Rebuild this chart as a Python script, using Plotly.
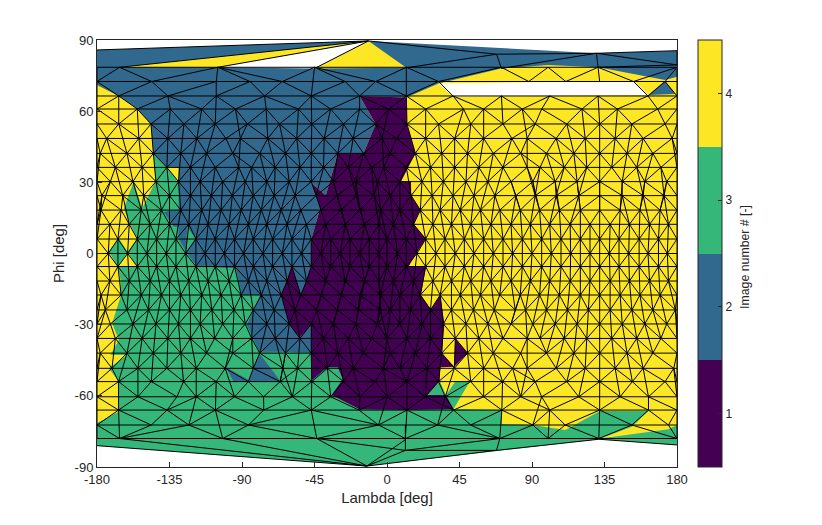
"""
Mesh patches per image number, lambda/phi map with discrete colorbar
"""

import plotly.graph_objects as go

# -- Colores (viridis, 4 niveles) ---------------------------------------------
COLORS = ["#440154", "#31688e", "#35b779", "#fde725"]
IMAGE_NUMBERS = [1, 2, 3, 4]
X_TICKS = [-180, -135, -90, -45, 0, 45, 90, 135, 180]
Y_TICKS = [-90, -60, -30, 0, 30, 60, 90]

# -- Contornos de cada region (lambda, phi) -----------------------------------
YELLOW_LON = [-180, 180, 180, -180]
YELLOW_LAT = [80, 80, -78, -78]

GREEN_LON = [-143.7, -152, -157.2, -163.4, -159.2, -155, -160.9, -155, -166.9, -165.4, -165.4, -170.6,
             -166.5, -171.6, -161.3, -172.7, -166.5, -166.5, -180, -180, -12.5, 131.5, 180, 180,
             174.7, 132.5, 152, 162.3, 132.3, 110.6, 90.5, 71.3, 71.3, 41.3, 51.7, 42.4, 36.6, 32.7,
             24.8, 0, -47, -100, -125, -129.3, -136.6, -145]
GREEN_LAT = [30.3, 19, 30.3, 19, 12, 6.4, 0.6, -5.6, -5.6, -11.2, -18.2, -29.4,
             -36.5, -42.8, -42.8, -48.4, -54, -66.7, -71.5, -81, -89.6, -78.3, -80.7, -72.3,
             -74.1, -78, -73, -66.4, -66.4, -74.4, -72.3, -71.9, -66, -65.6, -53.6, -54, -59.7, -53.6,
             -59.7, -55, -30, 0, 15, 30, 36.3, 42.2]
GREEN_DIAMOND_LON = [-166.5, -172.7, -166.9, -160.9]
GREEN_DIAMOND_LAT = [6.4, 0.7, -5.6, 0.6]

BLUE_LON = [-180, -11.5, 130, 180, 180, 172.6, 131, 100, 70.7, 32, 12, -17, -7, -14.6, -30.5, -38, -46.7,
            -41.5, -47, -47, -53.5, -59, -65.7, -60.7, -54.3, -47, -47, -63, -79.3, -87, -78.7, -90.1,
            -93.8, -118, -124.7, -129.6, -129.3, -132.4, -138.6, -129.3, -129.4, -136.6, -145, -146.5,
            -155, -166.5, -180]
BLUE_LAT = [85.8, 89.6, 84.4, 85.5, 74.5, 73.1, 78.5, 79.5, 78, 71.7, 65.8, 66.4, 54.6, 42.2, 42.2, 24.4, 29.6,
            19, 6, -5.5, -17.5, -5.5, -17.5, -29.7, -35.3, -30.2, -41.8, -41.4, -41.4, -30, -17.5, -17.5,
            -6.2, -5.5, 0.7, 6.4, 11.3, 11.3, 17.6, 18.3, 36.3, 36.3, 42.2, 54.6,
            61, 66.4, 71]
BLUE_SOUTH_LON = [-79.3, -72.5, -66.3, -95.2, -100, -86, -83]
BLUE_SOUTH_LAT = [-42, -48, -53.6, -54, -48, -53.2, -48]
BLUE_EAST_LON = [172.6, 162.3, 178.8]
BLUE_EAST_LAT = [72.8, 66.8, 67.2]
GREEN_WEDGE_LON = [-124, -118.9, -124.7]
GREEN_WEDGE_LAT = [11.3, 6.4, 0.7]

PURPLE_LON = [-17, 12, 12.4, 17.6, 8.7, 14.9, 15, 20.7, 16.5, 24, 18.6, 13.4, 24.2, 21, 27.3, 33, 35.6, 34,
              41.8, 42.4, 50, 41.8, 33, 32.7, 24.8, 36.5, 41.3, 12.4, -17, -34.3, -27.5, -30.5, -37, -47,
              -47, -47, -54.3, -60.7, -65.7, -59, -53.5, -47, -47, -41.5, -46.7, -38, -30.5, -14.6, -7]
PURPLE_LAT = [66.4, 65.8, 54.4, 42.2, 30.3, 30.3, 24.4, 18.3, 12.3, 6.1, 0.5, -5.5, -5.5, -17.5, -23.5, -17.5, -29.7, -42,
              -47.7, -35.8, -42, -47.7, -48, -53.6, -59.7, -59.7, -65.6, -66, -65.7, -59.6, -53, -48, -48, -53.6,
              -41.8, -30.2, -35.3, -29.7, -17.5, -5.5, -17.5, -5.5, 6, 19, 29.6, 24.4, 42.2, 42.2, 54.6]

YELLOW_SLIVER_LON = [-166, -11.5, -105]
YELLOW_SLIVER_LAT = [78.5, 89.6, 78.5]
YELLOW_CAP_LON = [-45, -11.5, 12]
YELLOW_CAP_LAT = [78, 89.6, 78.3]
WHITE_CAP_LON = [-105, -11.5, -45]
WHITE_CAP_LAT = [78.5, 89.6, 78]
WHITE_HOLE_LON = [32, 41.3, 162.3, 153]
WHITE_HOLE_LAT = [71.7, 66.1, 66.8, 72.7]

# -- Nodos de la malla, por filas de latitud ----------------------------------
MESH_LATS = [78.5, 72.5, 66.4, 60.9, 54.6, 48.5, 42.2, 36.3, 30.3, 24.4, 18.3, 12.3, 6.1, 0,
             -5.5, -11.6, -17.5, -23.8, -29.7, -35.8, -42, -48.4, -54, -60.4, -66, -72.3, -78]
MESH_LONS = [
    [-180, -166, -105, -45, 12, 71, 100, 131, 180],
    [-180, -146, -106, -85, -65, -46, -26, -7, 12, 32, 88, 111, 132, 153, 172.6, 180],
    [-180, -166.5, -136, -106, -76, -47, -17, 12, 41, 71, 101, 131, 162, 180],
    [-180, -155, -134.5, -115, -94, -75, -55, -35, -17, 1, 24, 47.5, 60, 84, 96, 121, 143, 168, 180],
    [-180, -166.5, -146.5, -126, -106.6, -86.6, -66.7, -46.7, -27, -7, 12.4, 32, 52, 72, 92, 111.6, 132, 152, 172.6, 180],
    [-180, -174, -154, -136, -118, -100, -91, -74, -56, -39, -21, -3, 6, 24, 42, 60, 77.5, 87, 105, 123, 141.6, 159, 177, 180],
    [-180, -178, -161.4, -145, -128, -112, -95.7, -79, -63, -47, -30.5, -14.6, 2, 17.6, 34, 50, 66, 83, 99, 116, 132, 149, 165, 180],
    [-180, -168.6, -152, -136.6, -122, -106.6, -92, -84, -69.4, -54, -39.4, -24, -9.5, -2, 12, 27, 42, 57, 72, 87, 95, 110, 124, 139.5, 155, 170, 180],
    [-180, -171.7, -157.7, -143.4, -129.4, -116, -102, -88, -74.6, -60.7, -47, -33.2, -19.4, -6, 8, 21.7, 35, 49, 62.6, 77, 90.5, 104.4, 118, 132, 146, 160, 173.6, 180],
    [-180, -177, -164, -151, -135, -122, -109, -96, -83, -70, -57, -44, -31, -19, -8, 2, 15, 28, 41, 54, 67, 80, 92, 105, 119, 132, 146, 159, 172, 180],
    [-180, -177.5, -165, -152.5, -140, -128, -115, -103, -90.5, -78, -65.7, -53.5, -41, -28.4, -16.7, -4, 8, 20.7, 33, 45.5, 58, 70, 82.7, 94.7, 107, 120, 132, 144.7, 157, 169.5, 180],
    [-180, -172, -160, -147, -135, -123, -111, -98, -86, -74.6, -62, -50, -38, -26, -14, -5, 4, 16.5, 28.5, 40, 52, 64.5, 77, 89, 101, 113.7, 126, 138.5, 150.5, 163, 174.7, 180],
    [-180, -167, -155, -143, -131, -118.6, -106.6, -94.6, -83, -71, -59, -47, -35, -23, -11, 0, 12, 24, 36, 48, 60, 72, 84, 96, 108, 120, 132, 144, 156.5, 168.5, 180],
    [-180, -173, -161, -149, -137, -125, -113, -101, -89, -77, -65, -53, -41, -29, -17, -5, 6.6, 18.6, 30.4, 42.4, 54, 66, 78, 90, 102, 114, 126, 138, 150, 162, 174, 180],
    [-180, -167, -155, -143, -131, -118.6, -106.6, -94.6, -83, -71, -59, -47, -35, -23, -11, 0, 12, 24, 36, 48, 60, 72, 84, 96, 108, 120, 132, 144, 156.5, 168.5, 180],
    [-180, -172, -160, -147, -135, -123, -111, -98, -86, -74.6, -62, -50, -38, -26, -14, -5, 4, 16.5, 28.5, 40, 52, 64.5, 77, 89, 101, 113.7, 126, 138.5, 150.5, 163, 174.7, 180],
    [-180, -177.5, -165, -152.5, -140, -128, -115, -103, -90.5, -78, -65.7, -53.5, -41, -28.4, -16.7, -4, 8, 20.7, 33, 45.5, 58, 70, 82.7, 94.7, 107, 120, 132, 144.7, 157, 169.5, 180],
    [-180, -174.8, -161.4, -148, -135, -122, -108.7, -95, -83, -70, -57, -43.6, -31, -17.7, -4, 2, 14.5, 27, 40, 53.7, 66.6, 79.6, 86, 99, 112, 125, 138.5, 152, 165, 179, 180],
    [-180, -171.7, -157.7, -143.4, -129.4, -116, -102, -88, -74.6, -60.7, -47, -33.2, -19.4, -6, 8, 21.7, 35, 49, 62.6, 77, 90.5, 104.4, 118, 132, 146, 160, 173.6, 180],
    [-180, -168.6, -152, -136, -122, -107, -95.7, -84, -69.4, -54, -39.4, -24, -9.5, 0, 12.4, 27, 42.4, 57, 72, 87, 95, 110, 124, 139.5, 155, 170, 180],
    [-180, -178, -161.4, -145, -128, -112, -95.7, -79, -63, -47, -30.5, -14.6, 2, 17.6, 34, 50, 66, 83, 99, 116, 132, 149, 165, 180],
    [-180, -170.7, -154.6, -136.6, -118.4, -100.4, -83, -64.6, -55.5, -37, -21, -2.2, 8, 24.8, 41.8, 60, 78, 87, 105, 123, 141.6, 159, 178, 180],
    [-180, -166.6, -146.3, -126.3, -106, -86, -66.3, -46.7, -27, -7.4, 12.4, 32, 52, 71.7, 92, 111.6, 132, 152.3, 172.6, 180],
    [-180, -154.6, -130.4, -118.4, -94.6, -76.6, -58.7, -34.9, -16.7, 0.2, 23.8, 36.2, 60, 83, 96, 119, 144.7, 162.3, 180],
    [-180, -166.6, -136.5, -106.5, -76.5, -47, -17.4, 12.4, 41.3, 71.3, 101, 132, 162.3, 180],
    [-180, -146.3, -123, -86, -5.3, 31.4, 52, 90.5, 110.6, 152, 174.7, 180],
    [-180, -166, -102, -43.6, 11.4, 70, 100, 131.5, 180],
]
# Fila de phi=72.5: el hueco blanco corta la conexion con phi=66.4 entre estos lambda
HOLE_WEST = 32
HOLE_EAST = 153
HOLE_WEST_BELOW = 41
HOLE_EAST_BELOW = 162
# Distancia maxima en lambda para las lineas casi verticales (fila k a fila k+2)
VERTICAL_TOL = 6

# -- Casquetes polares: segmentos sueltos (lon0, lat0, lon1, lat1) --------------
CAP_LON0 = [-180, -11.5, -166, -105, -45, 12, 68, 68, 130, 130, 131, 130, 130, 180,
            -180, -12.5, -166, -102, -43.6, 11.4, -12.5, 11.4, 11.4, 11.4, 11.4, 68, 68, 131.5]
CAP_LAT0 = [85.8, 89.6, 78.5, 78.5, 78, 78.3, 84, 84, 84.4, 84.4, 78.5, 84.4, 84.4, 85.5,
            -81, -89.6, -78, -78, -78, -78.5, -89.6, -83, -83, -83, -83, -83, -83, -78.3]
CAP_LON1 = [-11.5, 68, -11.5, -11.5, -11.5, 68, 71, 130, 71, 131, 180, 180, 180, 180,
            -12.5, 68, -12.5, -12.5, -12.5, -12.5, 11.4, 68, 70, -43.6, 11.4, 70, 131.5, 180]
CAP_LAT1 = [89.6, 84, 89.6, 89.6, 89.6, 84, 78, 84.4, 78, 78.5, 79.5, 85.5, 79.5, 79.5,
            -89.6, -83, -89.6, -89.6, -89.6, -89.6, -83, -83, -78, -78, -72.3, -78, -78.3, -80.7]


def strip_edges(lons_a, lat_a, lons_b, lat_b):
    """Une dos filas de nodos con zigzag, siempre por la diagonal mas corta."""
    xs, ys = [], []
    i, j = 0, 0
    while True:
        xs += [lons_a[i], lons_b[j], None]
        ys += [lat_a, lat_b, None]
        if i == len(lons_a) - 1 and j == len(lons_b) - 1:
            break
        if j == len(lons_b) - 1:
            i += 1
        elif i == len(lons_a) - 1:
            j += 1
        elif abs(lons_a[i + 1] - lons_b[j]) < abs(lons_a[i] - lons_b[j + 1]):
            i += 1
        else:
            j += 1
    return xs, ys


mesh_x, mesh_y = [], []
for k, lons in enumerate(MESH_LONS):
    lat = MESH_LATS[k]
    mesh_x += list(lons) + [None]
    mesh_y += [lat] * len(lons) + [None]
    if k == len(MESH_LONS) - 1:
        continue
    below = MESH_LONS[k + 1]
    if k == 1:
        # la fila 72.5 no se conecta a traves del hueco
        parts = [
            ([v for v in lons if v <= HOLE_WEST], [v for v in below if v <= HOLE_WEST_BELOW]),
            ([v for v in lons if v >= HOLE_EAST], [v for v in below if v >= HOLE_EAST_BELOW]),
        ]
    else:
        parts = [(lons, below)]
    for a, b in parts:
        sx, sy = strip_edges(a, lat, b, MESH_LATS[k + 1])
        mesh_x += sx
        mesh_y += sy
    # lineas casi verticales que saltan una fila
    if 2 <= k <= len(MESH_LONS) - 3:
        two_below = MESH_LONS[k + 2]
        for v in lons[1:-1]:
            near = min(two_below, key=lambda w: abs(w - v))
            if abs(near - v) < VERTICAL_TOL:
                mesh_x += [v, near, None]
                mesh_y += [lat, MESH_LATS[k + 2], None]

for a, b, c, d in zip(CAP_LON0, CAP_LAT0, CAP_LON1, CAP_LAT1):
    mesh_x += [a, c, None]
    mesh_y += [b, d, None]

patches = [
    (YELLOW_LON, YELLOW_LAT, COLORS[3]),
    (GREEN_LON, GREEN_LAT, COLORS[2]),
    (GREEN_DIAMOND_LON, GREEN_DIAMOND_LAT, COLORS[2]),
    (BLUE_LON, BLUE_LAT, COLORS[1]),
    (BLUE_SOUTH_LON, BLUE_SOUTH_LAT, COLORS[1]),
    (BLUE_EAST_LON, BLUE_EAST_LAT, COLORS[1]),
    (GREEN_WEDGE_LON, GREEN_WEDGE_LAT, COLORS[2]),
    (PURPLE_LON, PURPLE_LAT, COLORS[0]),
    (YELLOW_SLIVER_LON, YELLOW_SLIVER_LAT, COLORS[3]),
    (YELLOW_CAP_LON, YELLOW_CAP_LAT, COLORS[3]),
    (WHITE_CAP_LON, WHITE_CAP_LAT, "white"),
    (WHITE_HOLE_LON, WHITE_HOLE_LAT, "white"),
]

fig = go.Figure()
for lon, lat, color in patches:
    fig.add_trace(go.Scatter(
        x=lon + lon[:1], y=lat + lat[:1],
        mode="lines", fill="toself", fillcolor=color,
        line=dict(width=0), hoverinfo="skip", showlegend=False,
    ))

fig.add_trace(go.Scatter(
    x=mesh_x, y=mesh_y, mode="lines",
    line=dict(color="black", width=1),
    hoverinfo="skip", showlegend=False,
))

# Barra de color discreta
colorscale = []
for n, c in enumerate(COLORS):
    colorscale += [[n / 4, c], [(n + 1) / 4, c]]
fig.add_trace(go.Scatter(
    x=[None], y=[None], mode="markers", showlegend=False,
    marker=dict(
        color=IMAGE_NUMBERS[:1], cmin=0.5, cmax=4.5, colorscale=colorscale, showscale=True,
        colorbar=dict(
            tickvals=IMAGE_NUMBERS, ticks="inside", ticklen=4, tickcolor="#262626", tickwidth=1,
            tickfont=dict(size=12, color="#262626"),
            thickness=24, thicknessmode="pixels", len=1, lenmode="fraction",
            x=1.036, xanchor="left", y=0.5, yanchor="middle", xpad=0, ypad=0,
            outlinecolor="#262626", outlinewidth=1,
        ),
    ),
))

axis_style = dict(
    ticks="inside", ticklen=5, tickcolor="#262626", tickwidth=1,
    showline=True, mirror=True, linecolor="#262626", linewidth=1,
    showgrid=False, zeroline=False,
    tickfont=dict(size=13, color="#262626"),
)
fig.update_layout(
    width=814, height=517,
    margin=dict(l=88.5, r=145, t=32, b=58),
    paper_bgcolor="white", plot_bgcolor="white",
    font=dict(family="Liberation Sans, Arial, sans-serif", color="#262626"),
    xaxis=dict(range=[-180, 180], tickvals=X_TICKS, ticktext=[str(v) for v in X_TICKS],
               title=dict(text="Lambda [deg]", font=dict(size=15), standoff=6), **axis_style),
    yaxis=dict(range=[-90, 90], tickvals=Y_TICKS, ticktext=[str(v) for v in Y_TICKS],
               title=dict(text="Phi [deg]", font=dict(size=15), standoff=6), **axis_style),
    annotations=[dict(
        text="Image number # [-]", xref="paper", yref="paper", x=1.1327, y=0.492,
        textangle=-90, showarrow=False, font=dict(size=12.3, color="#262626"),
    )],
)
fig.write_html("out.html")
